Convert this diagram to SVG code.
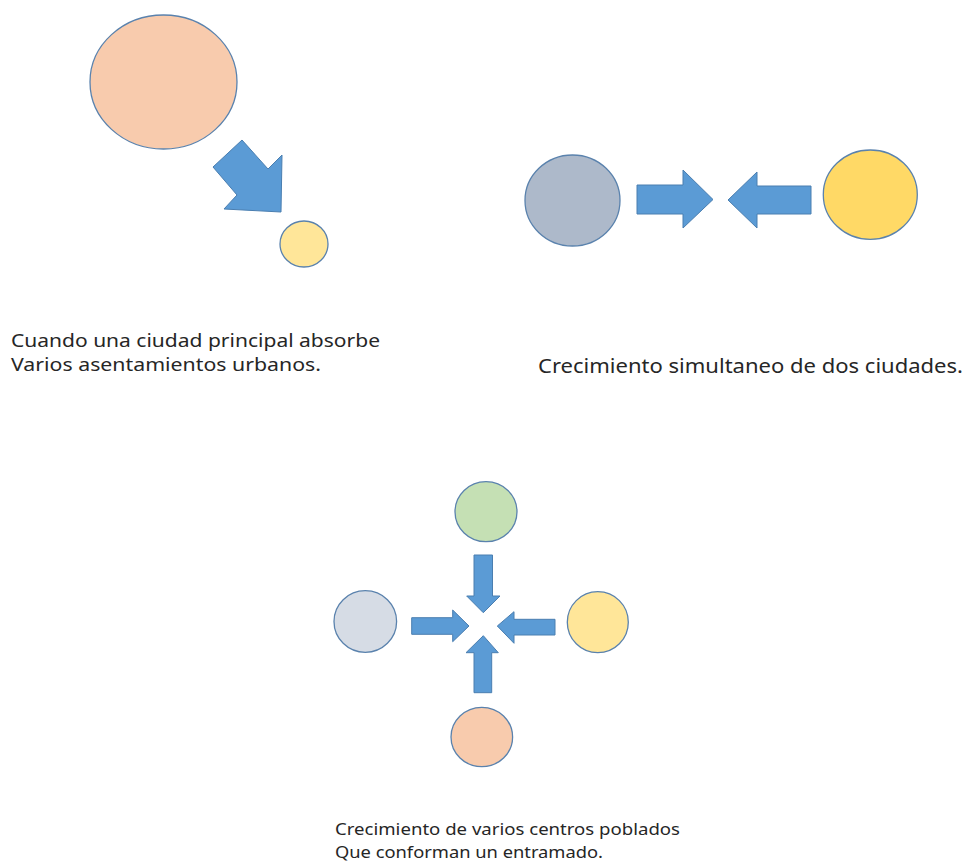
<svg xmlns="http://www.w3.org/2000/svg" width="966" height="863" viewBox="0 0 966 863">
  <style>
    .node { stroke: #5A82AD; stroke-width: 1.3; }
    .arrow { fill: #5B9BD5; stroke: #4A7EB0; stroke-width: 1; stroke-linejoin: miter; }
    .lbl { font-family: "Noto Sans", "Open Sans", "Liberation Sans", sans-serif; fill: #262626; }
  </style>
  <rect width="966" height="863" fill="#ffffff"/>

  <!-- Diagram 1 -->
  <g id="ciudad-principal"><ellipse class="node" cx="163.5" cy="82" rx="73.5" ry="67" fill="#F8CBAD"/></g>
  <g id="asentamiento"><ellipse class="node" cx="304" cy="244" rx="24" ry="23" fill="#FFE699"/></g>

  <!-- Diagram 2 -->
  <g id="ciudad-a"><ellipse class="node" cx="572.5" cy="200.5" rx="47.5" ry="45.5" fill="#ADB9CA"/></g>
  <g id="ciudad-b"><ellipse class="node" cx="870.3" cy="194.7" rx="47" ry="44.7" fill="#FFD966"/></g>

  <!-- Diagram 3 -->
  <g id="centro-norte"><ellipse class="node" cx="486" cy="511.7" rx="31" ry="30" fill="#C5E0B4"/></g>
  <g id="centro-oeste"><ellipse class="node" cx="365.3" cy="621.5" rx="31.3" ry="30.8" fill="#D6DCE5"/></g>
  <g id="centro-este"><ellipse class="node" cx="597.8" cy="622.2" rx="30.5" ry="30.5" fill="#FFE699"/></g>
  <g id="centro-sur"><ellipse class="node" cx="481.8" cy="737" rx="30.8" ry="29.7" fill="#F8CBAD"/></g>

  <g id="connectors">
    <polygon class="arrow" points="242,140 268,169 282,155 281,212 224,209 237,195 213,167"/>
    <polygon class="arrow" points="637,185 683,185 683,170 713,199.5 683,228 683,214 637,214"/>
    <polygon class="arrow" points="811,186 757,186 757,172 728,200 757,228 757,214 811,214"/>
    <polygon class="arrow" points="474,555 492.5,555 492.5,596 500,596 483.3,612.7 466.7,596 474,596"/>
    <polygon class="arrow" points="411.7,617.7 452.7,617.7 452.7,610 469,626 452.7,641.7 452.7,634.3 411.7,634.3"/>
    <polygon class="arrow" points="555,619.3 514,619.3 514,611.7 497.3,626 514,643.3 514,635 555,635"/>
    <polygon class="arrow" points="483.3,635.7 498.3,652.7 491.7,652.7 491.7,692.7 474,692.7 474,652.7 466,652.7"/>
  </g>

  <g id="labels">
    <text class="lbl" x="11" y="347" font-size="18" textLength="369" lengthAdjust="spacingAndGlyphs">Cuando una ciudad principal absorbe</text>
    <text class="lbl" x="11" y="371" font-size="18" textLength="310" lengthAdjust="spacingAndGlyphs">Varios asentamientos urbanos.</text>
    <text class="lbl" x="538" y="373" font-size="20" textLength="425" lengthAdjust="spacingAndGlyphs">Crecimiento simultaneo de dos ciudades.</text>
    <text class="lbl" x="335" y="835" font-size="16" textLength="345" lengthAdjust="spacingAndGlyphs">Crecimiento de varios centros poblados</text>
    <text class="lbl" x="335" y="858" font-size="16" textLength="268" lengthAdjust="spacingAndGlyphs">Que conforman un entramado.</text>
  </g>
</svg>
